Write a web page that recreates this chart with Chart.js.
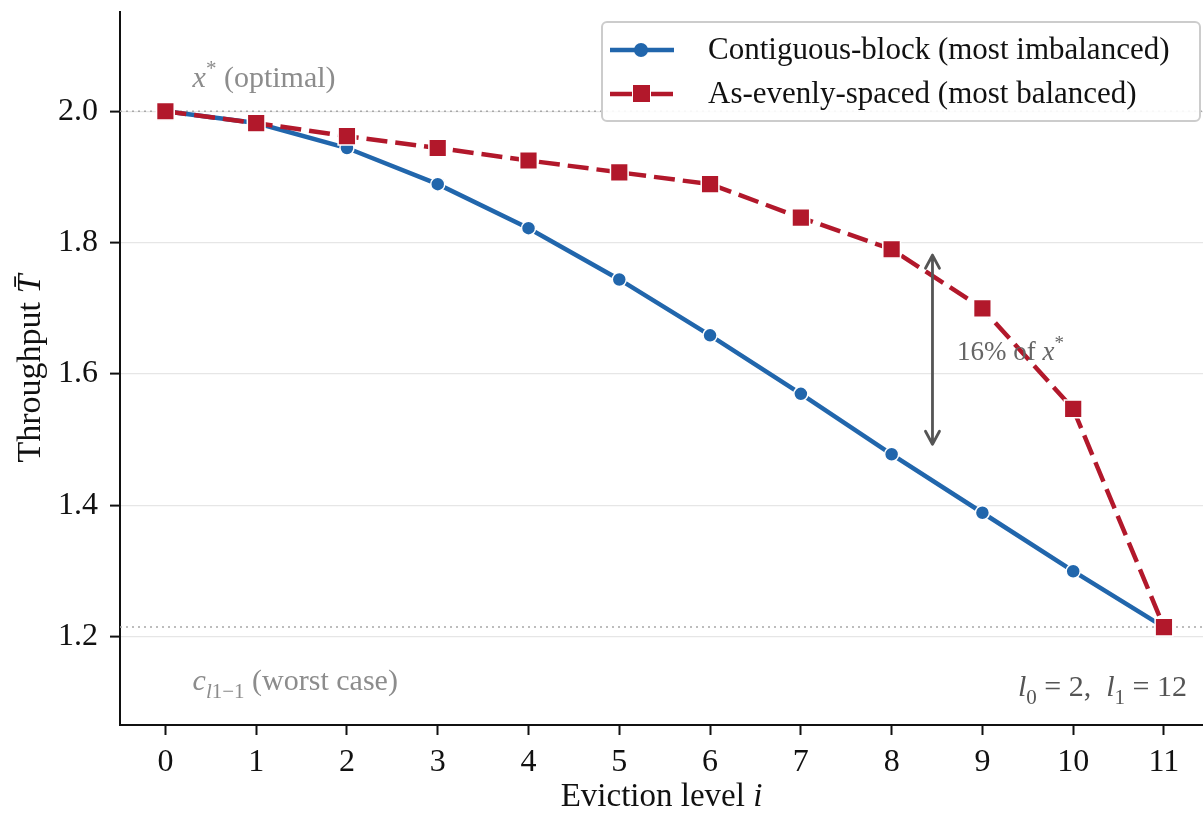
<!DOCTYPE html>
<html>
<head>
<meta charset="utf-8">
<script src="https://cdn.jsdelivr.net/npm/chart.js@4"></script>
<style>
  html, body { margin: 0; padding: 0; background: #fff; }
  #wrap { width: 1203px; height: 816px; }
</style>
</head>
<body>
<div id="wrap"><canvas id="throughputChart"></canvas></div>
<script>
// eviction levels and the throughput of the two placements
const levels = [0, 1, 2, 3, 4, 5, 6, 7, 8, 9, 10, 11];
const contiguous = [2.000, 1.982, 1.944, 1.889, 1.822, 1.744, 1.659, 1.570, 1.478, 1.389, 1.300, 1.215];
const evenlySpaced = [2.000, 1.982, 1.962, 1.944, 1.925, 1.907, 1.889, 1.838, 1.790, 1.700, 1.547, 1.215];
const optimal = 2.0;     // x*
const worstCase = 1.215; // c_{l1-1}
const yTicks = [1.2, 1.4, 1.6, 1.8, 2.0];
const gapLevel = 8;

const SERIF = '"Liberation Serif", "DejaVu Serif", serif';
const BLUE = '#2166ac';
const RED = '#b2182b';
const RED_DASH = [21, 8];

// draws text made of plain / italic / sub / superscript pieces
function drawRich(ctx, parts, x, y, size, color, align) {
  const fontOf = p => (p.it ? 'italic ' : '') + Math.round((p.sub || p.sup) ? size * 0.7 : size) + 'px ' + SERIF;
  let total = 0;
  parts.forEach(p => { ctx.font = fontOf(p); p.w = ctx.measureText(p.t).width; total += p.w; });
  let cx = align === 'right' ? x - total : (align === 'center' ? x - total / 2 : x);
  ctx.save();
  ctx.fillStyle = color;
  ctx.textBaseline = 'alphabetic';
  ctx.textAlign = 'left';
  parts.forEach(p => {
    ctx.font = fontOf(p);
    const dy = p.sub ? size * 0.25 : (p.sup ? -size * 0.4 : 0);
    ctx.fillText(p.t, cx, y + dy);
    cx += p.w;
  });
  ctx.restore();
}

const overlay = {
  id: 'overlay',
  beforeDatasetsDraw(chart) {
    const { ctx, chartArea, scales: { y } } = chart;
    ctx.save();
    ctx.strokeStyle = '#a8a8a8';
    ctx.lineWidth = 1.5;
    ctx.setLineDash([2, 4]);
    [optimal, worstCase].forEach(v => {
      const py = y.getPixelForValue(v);
      ctx.beginPath();
      ctx.moveTo(chartArea.left, py);
      ctx.lineTo(chartArea.right, py);
      ctx.stroke();
    });
    ctx.restore();
  },
  afterDraw(chart) {
    const { ctx, chartArea, scales: { x, y } } = chart;

    // reference line labels
    drawRich(ctx, [{ t: 'x', it: true }, { t: '*', sup: true }, { t: ' (optimal)' }],
      x.getPixelForValue(0.3), y.getPixelForValue(optimal) - 24, 30, '#8c8c8c', 'left');
    drawRich(ctx, [{ t: 'c', it: true }, { t: 'l', it: true, sub: true }, { t: '1−1', sub: true }, { t: ' (worst case)' }],
      x.getPixelForValue(0.3), y.getPixelForValue(worstCase) + 63, 30, '#8c8c8c', 'left');
    drawRich(ctx, [{ t: 'l', it: true }, { t: '0', sub: true }, { t: ' = 2,  ' }, { t: 'l', it: true }, { t: '1', sub: true }, { t: ' = 12' }],
      chartArea.right - 16, chartArea.bottom - 29, 30, '#555', 'right');

    // gap arrow between the two placements at one level
    const ax = x.getPixelForValue(gapLevel + 0.45);
    const yTop = y.getPixelForValue(evenlySpaced[gapLevel]) + 6;
    const yBot = y.getPixelForValue(contiguous[gapLevel]) - 10;
    ctx.save();
    ctx.strokeStyle = '#555';
    ctx.lineWidth = 2.8;
    ctx.lineCap = 'round';
    ctx.lineJoin = 'round';
    ctx.beginPath();
    ctx.moveTo(ax, yTop); ctx.lineTo(ax, yBot);
    ctx.moveTo(ax - 7, yTop + 13); ctx.lineTo(ax, yTop); ctx.lineTo(ax + 7, yTop + 13);
    ctx.moveTo(ax - 7, yBot - 13); ctx.lineTo(ax, yBot); ctx.lineTo(ax + 7, yBot - 13);
    ctx.stroke();
    ctx.restore();
    const pct = Math.round(100 * (evenlySpaced[gapLevel] - contiguous[gapLevel]) / optimal);
    drawRich(ctx, [{ t: pct + '% of ' }, { t: 'x', it: true }, { t: '*', sup: true }],
      x.getPixelForValue(gapLevel + 0.72), y.getPixelForValue((evenlySpaced[gapLevel] + contiguous[gapLevel]) / 2) + 8,
      27, '#666', 'left');

    // legend
    const lx = 602, ly = 22, lw = 598, lh = 99;
    ctx.save();
    ctx.beginPath();
    ctx.roundRect(lx, ly, lw, lh, 5);
    ctx.fillStyle = 'rgba(255,255,255,0.9)';
    ctx.fill();
    ctx.strokeStyle = '#cccccc';
    ctx.lineWidth = 2;
    ctx.stroke();
    const rows = [
      { label: 'Contiguous-block (most imbalanced)', color: BLUE, dash: [], style: 'circle' },
      { label: 'As-evenly-spaced (most balanced)', color: RED, dash: [22, 7, 5, 7], style: 'rect' }
    ];
    rows.forEach((r, i) => {
      const ry = ly + 28 + i * 44;
      ctx.strokeStyle = r.color;
      ctx.lineWidth = 4.5;
      ctx.setLineDash(r.dash);
      ctx.beginPath();
      ctx.moveTo(610, ry); ctx.lineTo(674, ry);
      ctx.stroke();
      ctx.setLineDash([]);
      ctx.fillStyle = r.color;
      ctx.beginPath();
      if (r.style === 'circle') ctx.arc(641, ry, 7, 0, Math.PI * 2);
      else ctx.rect(633, ry - 9, 17, 17);
      ctx.fill();
      ctx.fillStyle = '#111';
      ctx.font = '31px ' + SERIF;
      ctx.textBaseline = 'middle';
      ctx.fillText(r.label, 708, ry + 1);
    });
    ctx.restore();

    // axis titles
    drawRich(ctx, [{ t: 'Eviction level ' }, { t: 'i', it: true }],
      (chartArea.left + chartArea.right) / 2, 806, 33, '#111', 'center');
    ctx.save();
    ctx.translate(40, (chartArea.top + chartArea.bottom) / 2);
    ctx.rotate(-Math.PI / 2);
    drawRich(ctx, [{ t: 'Throughput ' }, { t: 'T̄', it: true }], 0, 0, 34, '#111', 'center');
    ctx.restore();
  }
};

const ctx = document.getElementById('throughputChart').getContext('2d');
const chart = new Chart(ctx, {
  type: 'line',
  data: {
    datasets: [{
      label: 'Contiguous-block (most imbalanced)',
      data: levels.map((l, i) => ({ x: l, y: contiguous[i] })),
      borderColor: BLUE,
      backgroundColor: BLUE,
      borderWidth: 4.5,
      pointRadius: 7,
      pointBorderColor: '#fff',
      pointBorderWidth: 1.5,
      pointStyle: 'circle',
      tension: 0,
      order: 2
    }, {
      label: 'As-evenly-spaced (most balanced)',
      data: levels.map((l, i) => ({ x: l, y: evenlySpaced[i] })),
      borderColor: RED,
      backgroundColor: RED,
      borderWidth: 4.5,
      borderDash: RED_DASH,
      pointRadius: 12.5,
      pointBorderColor: '#fff',
      pointBorderWidth: 1.5,
      pointStyle: 'rect',
      tension: 0,
      order: 1
    }]
  },
  options: {
    responsive: true,
    maintainAspectRatio: false,
    animation: false,
    layout: { autoPadding: false, padding: { top: 12, right: 0, left: 0, bottom: 0 } },
    plugins: { legend: { display: false }, tooltip: { enabled: false } },
    scales: {
      x: {
        type: 'linear',
        min: -0.5,
        max: 11.43,
        afterBuildTicks: s => { s.ticks = levels.map(v => ({ value: v })); },
        afterFit: s => { s.height = 91; s.paddingLeft = 0; s.paddingRight = 0; },
        grid: { drawOnChartArea: false, drawTicks: true, tickLength: 10, tickColor: '#111', tickWidth: 2 },
        border: { color: '#111', width: 2 },
        ticks: { color: '#111', font: { family: SERIF, size: 32 }, padding: 8, maxRotation: 0 }
      },
      y: {
        type: 'linear',
        min: 1.066,
        max: 2.151,
        afterBuildTicks: s => { s.ticks = yTicks.map(v => ({ value: v })); },
        afterFit: s => { s.width = 120; s.paddingTop = 0; s.paddingBottom = 0; },
        grid: { color: '#e6e6e6', lineWidth: 1.2, drawTicks: true, tickLength: 10, tickColor: '#111', tickWidth: 2 },
        border: { color: '#111', width: 2 },
        ticks: { color: '#111', font: { family: SERIF, size: 32 }, padding: 12, callback: v => v.toFixed(1) }
      }
    }
  },
  plugins: [overlay]
});
</script>
</body>
</html>
